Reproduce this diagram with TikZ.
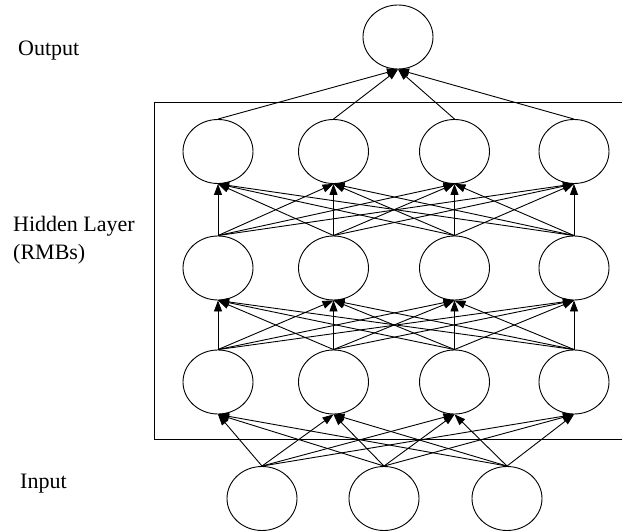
\documentclass[tikz,border=0pt]{standalone}
\usepackage{fontspec}
\setmainfont{Liberation Serif}
\usetikzlibrary{shapes.geometric,arrows.meta}
\begin{document}
\begin{tikzpicture}[x=1pt,y=-1pt,
  neuron/.style={draw,ellipse,line width=0.9pt,minimum width=70pt,minimum height=64pt,inner sep=0pt},
  link/.style={line width=0.9pt,-{Triangle[length=11pt,width=8pt]}},
  lbl/.style={anchor=base west,inner sep=0pt,font=\fontsize{22}{27}\selectfont}]
\useasboundingbox (0,0) rectangle (622,532);

% labels
\node[lbl] (lout) at (18,55.7) {Output};
\node[lbl] (lhid1) at (13,232) {Hidden Layer};
\node[lbl] (lhid2) at (13,259) {(RMBs)};
\node[lbl] (lin) at (20,488) {Input};

% frame around the hidden layers
\draw[line width=1pt] (630,103) -- (154,103) -- (154,439) -- (630,439);

% output unit
\node[neuron] (o) at (398,37) {};

% hidden layers: rows a (top), b (middle), c (bottom)
\foreach \n/\x in {1/218,2/333.5,3/454.5,4/574}{
  \node[neuron] (a\n) at (\x,151.5) {};
  \node[neuron] (b\n) at (\x,268) {};
  \node[neuron] (c\n) at (\x,382) {};
}

% input units
\foreach \n/\x in {1/262,2/384,3/507}{
  \node[neuron] (i\n) at (\x,498.5) {};
}

% connections
\foreach \s in {1,2,3}{
  \foreach \t in {1,2,3,4}{
    \draw[link] (i\s.north) -- (c\t.south);
  }
}
\foreach \s in {1,2,3,4}{
  \foreach \t in {1,2,3,4}{
    \draw[link] (c\s.north) -- (b\t.south);
    \draw[link] (b\s.north) -- (a\t.south);
  }
  \draw[link] (a\s.north) -- (o.south);
}
\end{tikzpicture}
\end{document}
